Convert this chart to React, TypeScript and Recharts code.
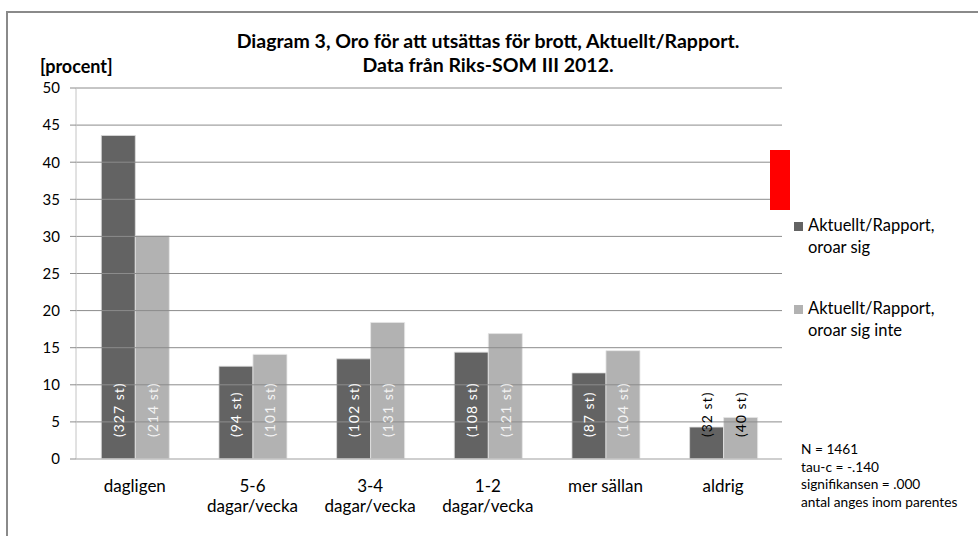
import React from "react";
import { BarChart, Bar, XAxis, YAxis, ReferenceLine, LabelList } from "recharts";

const categories = ["dagligen", "5-6\ndagar/vecka", "3-4\ndagar/vecka", "1-2\ndagar/vecka", "mer sällan", "aldrig"];
const worriedValues = [43.6, 12.5, 13.5, 14.4, 11.6, 4.3];
const notWorriedValues = [30.1, 14.1, 18.4, 16.9, 14.6, 5.6];
const worriedCounts = [327, 94, 102, 108, 87, 32];
const notWorriedCounts = [214, 101, 131, 121, 104, 40];
const yTicks = [0, 5, 10, 15, 20, 25, 30, 35, 40, 45, 50];
const seriesNames = ["Aktuellt/Rapport,\noroar sig", "Aktuellt/Rapport,\noroar sig inte"];
const titleLines = ["Diagram 3, Oro för att utsättas för brott, Aktuellt/Rapport.", "Data från Riks-SOM III 2012."];
const notes = ["N = 1461", "tau-c = -.140", "signifikansen = .000", "antal anges inom parentes"];

const data = categories.map((c, i) => ({
  cat: c,
  a: worriedValues[i],
  b: notWorriedValues[i],
  ac: worriedCounts[i],
  bc: notWorriedCounts[i],
}));

const FONT = "Lato, 'Noto Sans', sans-serif";
const DARK = "#636363";
const LIGHT = "#b2b2b2";

const XTick = (props: any) => {
  const { x, y, payload } = props;
  const lines = String(payload.value).split("\n");
  return (
    <g>
      {lines.map((l: string, i: number) => (
        <text key={i} x={x} y={y + 26 + i * 20} textAnchor="middle" dominantBaseline="central"
          fontFamily={FONT} fontSize={17} fill="#000">{l}</text>
      ))}
    </g>
  );
};

const makeLabel = (countKey: "ac" | "bc", color: string) => (props: any) => {
  const { x, width, index } = props;
  const cx = x + width / 2;
  const by = 437;
  const row = data[index];
  const fill = index === 5 ? "#000" : color;
  return (
    <text x={cx} y={by} transform={`rotate(-90 ${cx} ${by})`} textAnchor="start" dominantBaseline="central"
      fontFamily={FONT} fontSize={14} fill={fill} letterSpacing={1}>
      {`(${row[countKey]} st)`}
    </text>
  );
};

export default function App() {
  return (
    <div style={{ position: "absolute", left: 0, top: 0, width: 978, height: 536, overflow: "hidden", background: "#fff", fontFamily: FONT }}>
      <div style={{ position: "absolute", left: 6, top: 11, width: 1100, height: 700, border: "2px solid #8a8a8a", boxSizing: "border-box" }} />
      <div style={{ position: "absolute", left: 0, top: 0 }}>
        <BarChart width={978} height={536} data={data} margin={{ top: 88, right: 196, bottom: 37, left: 0 }}
          barCategoryGap="21.5%" barGap={0} accessibilityLayer={false}>
          {yTicks.filter((v) => v > 0).map((v) => (
            <ReferenceLine key={v} y={v} stroke="#8c8c8c" strokeWidth={1} ifOverflow="visible" />
          ))}
          <XAxis dataKey="cat" height={40} tickLine={false} tickSize={0} tickMargin={0} interval={0}
            axisLine={{ stroke: "#bfbfbf", strokeWidth: 1.5 }} tick={<XTick />} />
          <YAxis width={76} domain={[0, 50]} ticks={yTicks} interval={0} tickSize={6} tickMargin={10}
            axisLine={{ stroke: "#c4c4c4" }} tickLine={{ stroke: "#8c8c8c" }}
            tick={{ fontFamily: FONT, fontSize: 15, fill: "#000" }} />
          <Bar dataKey="a" fill={DARK} stroke="#dcdcdc" strokeWidth={0.8} isAnimationActive={false}>
            <LabelList dataKey="ac" content={makeLabel("ac", "#ffffff")} />
          </Bar>
          <Bar dataKey="b" fill={LIGHT} stroke="#e6e6e6" strokeWidth={0.8} isAnimationActive={false}>
            <LabelList dataKey="bc" content={makeLabel("bc", "#f4f4f4")} />
          </Bar>
        </BarChart>
      </div>
      <div style={{ position: "absolute", left: 770, top: 150, width: 20, height: 60, background: "#ff0000", zIndex: 10 }} />
      {titleLines.map((t, i) => (
        <div key={i} style={{ position: "absolute", left: 0, width: 976, top: 28 + i * 24, textAlign: "center", fontWeight: 700, fontSize: 19.5, lineHeight: "26px", color: "#000" }}>{t}</div>
      ))}
      <div style={{ position: "absolute", left: 40, top: 54, fontWeight: 700, fontSize: 18, lineHeight: "24px", color: "#000" }}>[procent]</div>
      {seriesNames.map((n, i) => (
        <div key={i} style={{ position: "absolute", left: 794, top: 214 + i * 83 }}>
          <div style={{ position: "absolute", left: 0, top: 8, width: 9, height: 9, background: i === 0 ? DARK : LIGHT }} />
          <div style={{ position: "absolute", left: 14, top: 0, fontSize: 16.5, lineHeight: "22px", whiteSpace: "pre", color: "#000" }}>{n}</div>
        </div>
      ))}
      {notes.map((n, i) => (
        <div key={i} style={{ position: "absolute", left: 801, top: 440 + i * 17.7, fontSize: 13.7, lineHeight: "18px", whiteSpace: "pre", color: "#000" }}>{n}</div>
      ))}
    </div>
  );
}
